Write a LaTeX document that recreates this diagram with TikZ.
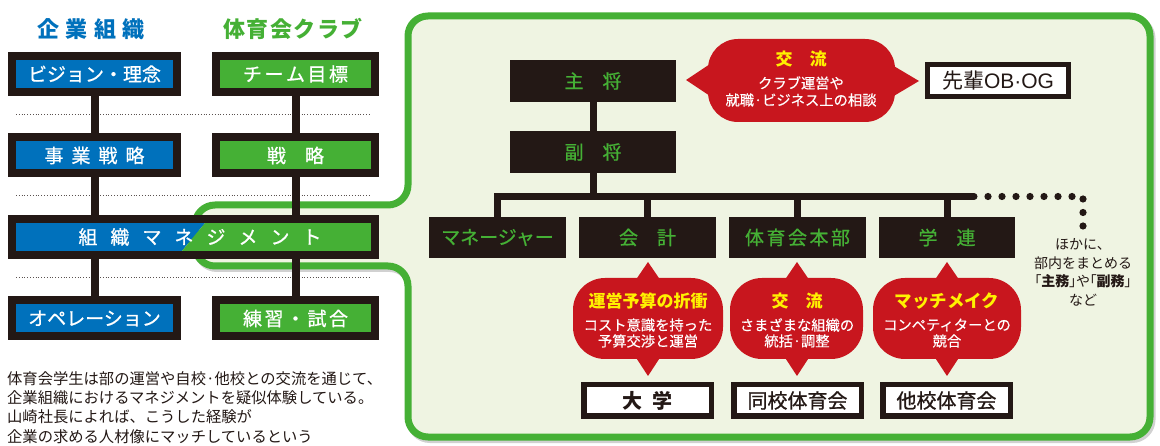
\documentclass[tikz,border=0pt]{standalone}
\usepackage{fontspec}
\setmainfont{Noto Sans CJK JP}
\newfontfamily\latfont{Liberation Sans}
\newcommand\fsz[1]{\fontsize{#1}{#1}\selectfont}
\newcommand\semib{\addfontfeature{FakeBold=0.8}}
\definecolor{kblue}{RGB}{0,113,188}
\definecolor{kgreen}{RGB}{69,176,53}
\definecolor{kred}{RGB}{200,22,30}
\definecolor{kyellow}{RGB}{255,241,0}
\definecolor{kblack}{RGB}{35,24,21}
\definecolor{kpanel}{RGB}{239,244,226}
\begin{document}
\begin{tikzpicture}[x=1pt,y=-1pt,
 lbox/.style={draw=kblack,line width=8pt,text=white,font=\fsz{19}\semib,inner sep=0pt,minimum height=36pt},
 bluebox/.style={lbox,fill=kblue,minimum width=165pt},
 greenbox/.style={lbox,fill=kgreen,minimum width=159pt},
 rbox/.style={fill=kblack,text=kgreen,font=\fsz{19}\semib,inner sep=0pt,minimum height=41pt},
 wbox/.style={draw=kblack,line width=5.5pt,fill=white,text=kblack,font=\fsz{20}\semib,inner sep=0pt,minimum width=127.5pt,minimum height=31.5pt},
 conn/.style={draw=kblack,line width=8pt},
 rconn/.style={draw=kblack,line width=7pt},
 btitle/.style={text=kyellow,font=\bfseries\fsz{17}},
 btext/.style={text=white,font=\fsz{14.3}\addfontfeature{FakeBold=0.3}},
 dotline/.style={draw=kblack!75,line width=1pt,dash pattern=on 1pt off 1.8pt},
 panelpath/.style={line width=7pt,rounded corners=20pt}
]
\useasboundingbox (0,0) rectangle (1160,446);
\fill[white] (0,0) rectangle (1160,446);
% panel
\path[panelpath,draw=black!18,shift={(2,2.5)}] (408,100) -- (408,16) -- (1150,16) -- (1150,437) -- (408,437) -- (408,266) -- (195,266) -- (195,205) -- (408,205) -- cycle;
\path[panelpath,draw=kgreen,fill=kpanel] (408,100) -- (408,16) -- (1150,16) -- (1150,437) -- (408,437) -- (408,266) -- (195,266) -- (195,205) -- (408,205) -- cycle;
% left titles
\node[text=kblue,font=\bfseries\fsz{22}] (t1) at (91,29) {企\hspace{6.5pt}業\hspace{6.5pt}組\hspace{6.5pt}織};
\node[text=kgreen,font=\bfseries\fsz{22}] (t2) at (293,29) {体\hspace{1.5pt}育\hspace{1.5pt}会\hspace{1.5pt}ク\hspace{1.5pt}ラ\hspace{1.5pt}ブ};
% dotted lines
\draw[dotline] (16,115) -- (370,115);
\draw[dotline] (16,196) -- (370,196);
\draw[dotline] (16,278) -- (370,278);
% left boxes
\node[bluebox] (b1) at (94.5,74) {ビジョン・理念};
\node[bluebox] (b2) at (94.5,155.5) {事\hspace{8pt}業\hspace{8pt}戦\hspace{8pt}略};
\node[bluebox] (b4) at (94.5,318.5) {オペレーション};
\node[greenbox] (g1) at (295.5,74) {チ\hspace{2.5pt}ー\hspace{2.5pt}ム\hspace{2.5pt}目\hspace{2.5pt}標};
\node[greenbox] (g2) at (295.5,155.5) {戦　略};
\node[greenbox] (g4) at (295.5,318.5) {練\hspace{2.5pt}習\hspace{2.5pt}・\hspace{2.5pt}試\hspace{2.5pt}合};
\fill[kblue] (12,219) -- (208.3,219) -- (178.7,255) -- (12,255) -- cycle;
\fill[kgreen] (208.3,219) -- (375,219) -- (375,255) -- (178.7,255) -- cycle;
\node[lbox,minimum width=363pt] (mg) at (193.5,237) {\hspace{13pt}組\hspace{13pt}織\hspace{13pt}マ\hspace{13pt}ネ\hspace{13pt}ジ\hspace{13pt}メ\hspace{13pt}ン\hspace{13pt}ト};
\draw[conn] (b1) -- (b2);
\draw[conn] (b2.south) -- (b2.south |- mg.north);
\draw[conn] (b4.north) -- (b4.north |- mg.south);
\draw[conn] (g1) -- (g2);
\draw[conn] (g2.south) -- (g2.south |- mg.north);
\draw[conn] (g4.north) -- (g4.north |- mg.south);
% paragraph
\node[anchor=north west,align=left,inner sep=0pt,font=\fontsize{15.3}{19.3}\selectfont,text=kblack] (para) at (7,371) {体育会学生は部の運営や自校·他校との交流を通じて、\\企業組織におけるマネジメントを疑似体験している。\\山崎社長によれば、こうした経験が\\企業の求める人材像にマッチしているという};
% right boxes
\node[rbox,minimum width=166pt,minimum height=42pt] (shu) at (593,81) {主　将};
\node[rbox,minimum width=166pt,minimum height=42pt] (fuku) at (593,152) {副　将};
\node[rbox,minimum width=137pt] (mgr) at (497.5,237.5) {マネージャー};
\node[rbox,minimum width=137pt] (kai) at (647.5,237.5) {会　計};
\node[rbox,minimum width=137pt] (hon) at (797.5,237.5) {体\hspace{2.5pt}育\hspace{2.5pt}会\hspace{2.5pt}本\hspace{2.5pt}部};
\node[rbox,minimum width=136pt] (gak) at (947,237.5) {学　連};
\coordinate (busR) at (974,196.5);
\draw[rconn] (shu) -- (fuku);
\draw[rconn,line cap=round] (mgr.north) |- (busR);
\draw[rconn] (fuku) -- (fuku |- busR);
\draw[rconn] (kai) -- (kai |- busR);
\draw[rconn] (hon) -- (hon |- busR);
\draw[rconn] (gak) -- (gak |- busR);
\foreach \x in {988,1002,1016,1030,1044,1058,1072} \fill[kblack] (\x,196.5) circle (3.6pt);
\foreach \y in {199,212.5,226} \fill[kblack] (1083,\y) circle (3.6pt);
\node[align=center,font=\fontsize{14}{18.5}\selectfont,text=kblack] (note) at (1083,272.5) {ほかに、\\部内をまとめる\\{\addfontfeature{RawFeature=+palt}「\textbf{主務}」や「\textbf{副務}」}\\など};
% top bubble
\fill[kred,rounded corners=30pt] (708,39) rectangle (895,122);
\fill[kred] (716,60) -- (686,80) -- (716,100) -- cycle;
\fill[kred] (887,62) -- (919,81) -- (887,100) -- cycle;
\node[btitle] (kt) at (801,59) {交　流};
\node[btext] (k1) at (801,83) {クラブ運営や};
\node[btext] (k2) at (801,100) {就職·ビジネス上の相談};
\node[wbox,line width=5pt,font=\fsz{21},minimum width=141pt,minimum height=32pt] (ob) at (998,80.5) {先輩{\latfont\fsz{21}OB·OG}};
% lower bubbles
\fill[kred,rounded corners=32pt] (573,278) rectangle (723,359);
\fill[kred] (633,284) -- (648,262) -- (663,284) -- cycle;
\fill[kred] (633,353) -- (648,376) -- (663,353) -- cycle;
\fill[kred,rounded corners=32pt] (730,278) rectangle (863,359);
\fill[kred] (782,284) -- (797,262) -- (812,284) -- cycle;
\fill[kred] (782,353) -- (797,376) -- (812,353) -- cycle;
\fill[kred,rounded corners=32pt] (873,278) rectangle (1021,359);
\fill[kred] (932,284) -- (947,262) -- (962,284) -- cycle;
\fill[kred] (932,353) -- (947,376) -- (962,353) -- cycle;
\node[btitle] (a0) at (648,301) {運営予算の折衝};
\node[btext] (a1) at (648,325) {コスト意識を持った};
\node[btext] (a2) at (648,341) {予算交渉と運営};
\node[btitle] (c0) at (797,301) {交　流};
\node[btext] (c1) at (797,325) {さまざまな組織の};
\node[btext] (c2) at (797,341) {統括·調整};
\node[btitle,font=\bfseries\fsz{17.5}] (m0) at (947,301) {マッチメイク};
\node[btext] (m1) at (947,325) {コンペティターとの};
\node[btext] (m2) at (947,341) {競合};
% bottom boxes
\node[wbox,font=\bfseries\fsz{20}] (dai) at (647.5,400.5) {大\hspace{10pt}学};
\node[wbox] (dou) at (797.5,400.5) {同校体育会};
\node[wbox] (tak) at (946.5,400.5) {他校体育会};
\end{tikzpicture}
\end{document}
